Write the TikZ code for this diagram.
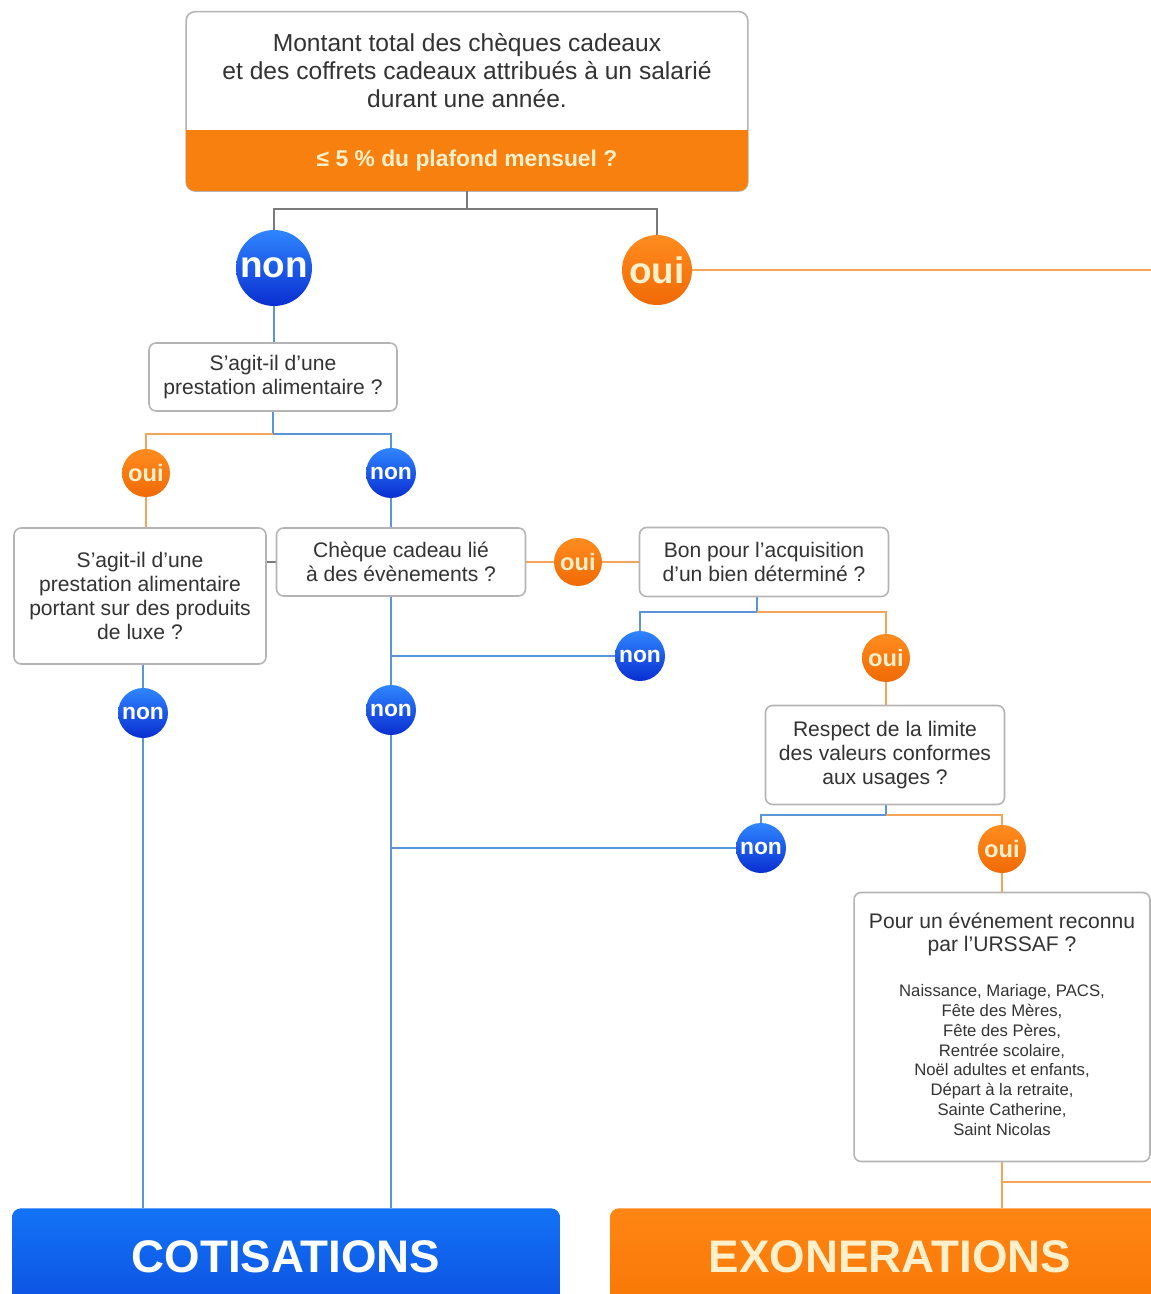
\documentclass[tikz,border=0pt]{standalone}
\usepackage{fontspec}
\setmainfont{Liberation Sans}
\usetikzlibrary{positioning, backgrounds}
\definecolor{cadre}{HTML}{B4B4B4}
\definecolor{texte}{HTML}{333333}
\definecolor{bleuclair}{HTML}{2F86FF}
\definecolor{bleufonce}{HTML}{0A2ED0}
\definecolor{orangeclair}{HTML}{FF8C1F}
\definecolor{orangefonce}{HTML}{F06A05}
\definecolor{lienbleu}{HTML}{5C94D8}
\definecolor{lienorange}{HTML}{F4A55A}
\definecolor{liengris}{HTML}{7A7A7A}
\definecolor{creme}{HTML}{FFF0CC}
\definecolor{bande}{HTML}{F7800F}
\definecolor{cotihaut}{HTML}{1273F5}
\definecolor{cotibas}{HTML}{0B45DC}
\definecolor{exohaut}{HTML}{FF8614}
\definecolor{exobas}{HTML}{F77200}
\tikzstyle{question} = [rectangle, rounded corners=4pt, draw=cadre, line width=0.9pt, fill=white, align=center, text=texte, inner sep=0pt, font=\fontsize{12}{13.6}\selectfont]
\tikzstyle{nonrond} = [circle, inner sep=0pt, minimum size=1cm, top color=bleuclair, bottom color=bleufonce, text=white, font=\bfseries\fontsize{13}{13}\selectfont]
\tikzstyle{ouirond} = [circle, inner sep=0pt, minimum size=0.96cm, top color=orangeclair, bottom color=orangefonce, text=creme, font=\bfseries\fontsize{13.5}{13.5}\selectfont]
\tikzstyle{grand} = [minimum size=1.52cm, font=\bfseries\fontsize{21}{21}\selectfont]
\tikzstyle{bandeau} = [rectangle, rounded corners=5pt, anchor=north, inner ysep=0pt, text height=1.28cm, text depth=1.36cm, font=\bfseries\fontsize{26}{26}\selectfont]
\tikzstyle{filbleu} = [line width=1pt, draw=lienbleu]
\tikzstyle{filorange} = [line width=1pt, draw=lienorange]
\tikzstyle{filgris} = [line width=1pt, draw=liengris]

\begin{document}
\begin{tikzpicture}[x=0.02cm, y=-0.02cm]
\useasboundingbox (0,0) rectangle (1151,1294);
\clip (0,0) rectangle (1151,1294);

% Question de depart
\node (montant) [align=center, text=texte, inner sep=0pt, minimum width=11.22cm, minimum height=2.36cm, font=\fontsize{14}{15.9}\selectfont] at (467,71) {Montant total des chèques cadeaux\\et des coffrets cadeaux attribués à un salarié\\durant une année.};
\node (seuil) [below=0pt of montant, inner sep=0pt, minimum width=11.22cm, minimum height=1.2cm, text=creme, font=\bfseries\fontsize{13}{15}\selectfont] {≤ 5 \% du plafond mensuel ?};
\begin{scope}[on background layer]
\filldraw[fill=white, draw=cadre, line width=0.9pt, rounded corners=5pt] (montant.north west) rectangle (seuil.south east);
\begin{scope}
\clip[rounded corners=5pt] (montant.north west) rectangle (seuil.south east);
\fill[bande] (seuil.north west) rectangle (seuil.south east);
\end{scope}
\end{scope}

\node (nonA) [nonrond, grand] at (274,268) {non};
\node (ouiA) [ouirond, grand, minimum size=1.4cm] at (657,270) {oui};
\coordinate (bordA) at (1151,270);

% Questions
\node (alim) [question, minimum width=4.96cm, minimum height=1.36cm] at (273,377) {S’agit-il d’une\\prestation alimentaire ?};
\coordinate (jB) at ([yshift=-0.44cm]alim.south);
\node (ouiB) [ouirond] at (146,473) {oui};
\node (nonB) [nonrond] at (391,473) {non};
\node (luxe) [question, minimum width=5.04cm, minimum height=2.72cm] at (140,596) {S’agit-il d’une\\prestation alimentaire\\portant sur des produits\\de luxe ?};
\node (cheque) [question, minimum width=4.98cm, minimum height=1.36cm] at (401,562) {Chèque cadeau lié\\à des évènements ?};
\node (ouiC) [ouirond] at (578,562) {oui};
\node (bon) [question, minimum width=4.98cm, minimum height=1.38cm] at (764,562) {Bon pour l’acquisition\\d’un bien déterminé ?};
\coordinate (jC) at (757,612);
\node (nonC) [nonrond] at (640,656) {non};
\node (ouiD) [ouirond] at (886,658) {oui};
\node (nonD) [nonrond] at (391,710) {non};
\node (nonE) [nonrond] at (143,713) {non};
\node (respect) [question, minimum width=4.78cm, minimum height=1.98cm] at (885,755) {Respect de la limite\\des valeurs conformes\\aux usages ?};
\coordinate (jD) at (886,815);
\node (nonF) [nonrond] at (761,848) {non};
\node (ouiF) [ouirond] at (1002,849) {oui};
\node (pour) [question, minimum width=5.92cm, minimum height=5.38cm] at (1002,1027) {Pour un événement reconnu\\par l’URSSAF ?\\[14pt]
{\fontsize{9.5}{11.3}\selectfont\begin{tabular}{@{}c@{}}Naissance, Mariage, PACS,\\Fête des Mères,\\Fête des Pères,\\Rentrée scolaire,\\Noël adultes et enfants,\\Départ à la retraite,\\Sainte Catherine,\\Saint Nicolas\end{tabular}}};

% Resultats
\node (cotis) [bandeau, minimum width=10.96cm, top color=cotihaut, bottom color=cotibas, text=white] at (286,1208) {COTISATIONS};
\node (exo) [bandeau, minimum width=11.2cm, top color=exohaut, bottom color=exobas, text=creme] at (890,1208) {EXONERATIONS};
\coordinate (bordB) at (1151,1182);

% Liaisons
\begin{scope}[on background layer]
\draw[filgris] (seuil.south) -- ++(0,18) -| (nonA);
\draw[filgris] (seuil.south) -- ++(0,18) -| (ouiA);
\draw[filorange] (ouiA) -- (bordA);
\draw[filbleu] (nonA) -- (nonA |- alim.north);
\draw[filbleu] (alim.south) -- (jB) -| (nonB);
\draw[filorange] (jB) -| (ouiB);
\draw[filorange] (ouiB) -- (ouiB |- luxe.north);
\draw[filbleu] (nonB) -- (nonB |- cheque.north);
\draw[filgris] (luxe.east |- cheque) -- (cheque.west);
\draw[filorange] (cheque) -- (ouiC) -- (bon);
\draw[filbleu] (jC |- bon.south) -- (jC) -| (nonC);
\draw[filorange] (jC) -| (ouiD);
\draw[filbleu] (nonC) -- (nonC -| nonB);
\draw[filbleu] (nonB |- cheque.south) -- (nonD) -- (nonD |- cotis.north);
\draw[filbleu] (nonE |- luxe.south) -- (nonE) -- (nonE |- cotis.north);
\draw[filorange] (ouiD) -- (ouiD |- respect.north);
\draw[filbleu] (jD |- respect.south) -- (jD) -| (nonF);
\draw[filorange] (jD) -| (ouiF);
\draw[filbleu] (nonF) -- (nonF -| nonB);
\draw[filorange] (ouiF) -- (ouiF |- pour.north);
\draw[filorange] (pour.south) -- (pour.south |- exo.north);
\draw[filorange] (pour.south |- bordB) -- (bordB);
\end{scope}

\end{tikzpicture}
\end{document}
